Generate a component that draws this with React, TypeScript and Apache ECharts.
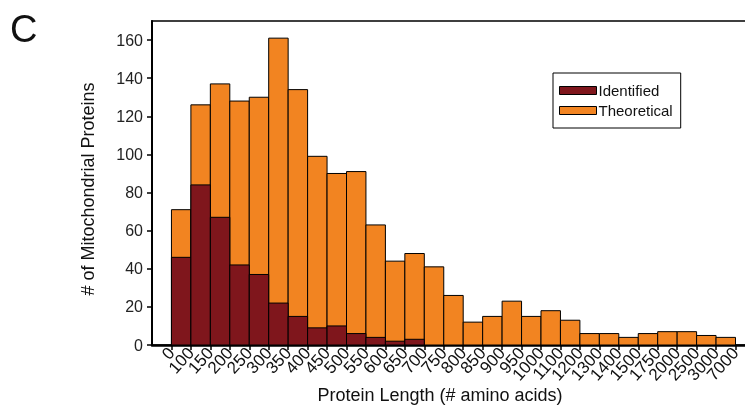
import React, { useEffect, useRef } from "react";
import * as echarts from "echarts";

const tickLabels = [
  "0", "100", "150", "200", "250", "300", "350", "400", "450", "500",
  "550", "600", "650", "700", "750", "800", "850", "900", "950", "1000",
  "1100", "1200", "1300", "1400", "1500", "1750", "2000", "2500", "3000", "7000",
];

const theoretical = [71, 126, 137, 128, 130, 161, 134, 99, 90, 91, 63, 44, 48, 41, 26, 12, 15, 23, 15, 18, 13, 6, 6, 4, 6, 7, 7, 5, 4];
const identified = [46, 84, 67, 42, 37, 22, 15, 9, 10, 6, 4, 2, 3, 0, 0, 0, 0, 0, 0, 0, 0, 0, 0, 0, 0, 0, 0, 0, 0];

const RED = "#7f161c";
const ORANGE = "#f28421";
const FONT = "Liberation Sans";

export default function App() {
  const ref = useRef<HTMLDivElement>(null);
  useEffect(() => {
    if (!ref.current) return;
    const chart = echarts.init(ref.current, null, { renderer: "svg" });
    const makeRender = (color: string) => (params: any, api: any) => {
      const i = api.value(0);
      const v = api.value(1);
      if (!v) return null;
      const p0 = api.coord([i, 0]);
      const p1 = api.coord([i + 1, v]);
      return {
        type: "rect",
        shape: { x: p0[0], y: p1[1], width: p1[0] - p0[0], height: p0[1] - p1[1] },
        style: { fill: color, stroke: "#000", lineWidth: 1 },
      };
    };
    const yTicks = [0, 20, 40, 60, 80, 100, 120, 140, 160];
    const evenTicks = tickLabels.map((_, i) => i).filter((i) => i % 2 === 0);
    const oddTicks = tickLabels.map((_, i) => i).filter((i) => i % 2 === 1);
    const allTicks = tickLabels.map((_, i) => i);
    const labelBase = {
      rotate: 48,
      margin: 5,
      fontSize: 17,
      color: "#111",
      fontFamily: FONT,
      hideOverlap: false,
      formatter: (v: number) => tickLabels[v] ?? "",
    };
    chart.setOption({
      animation: false,
      textStyle: { fontFamily: FONT },
      grid: {
        left: 152,
        top: 21,
        width: 32 * 19.45,
        height: 324,
        show: true,
        borderColor: "#000",
        borderWidth: 1.5,
        containLabel: false,
        outerBoundsMode: "none",
      },
      xAxis: [
        {
          type: "value",
          position: "bottom",
          min: -1,
          max: 31,
          interval: 1,
          splitLine: { show: false },
          axisLine: { onZero: false, lineStyle: { color: "#000", width: 2.5 } },
          axisTick: { show: true, length: 5, customValues: allTicks, lineStyle: { color: "#000", width: 1.5 } },
          axisLabel: { ...labelBase, customValues: evenTicks },
        },
        {
          type: "value",
          position: "bottom",
          offset: 0,
          min: -1,
          max: 31,
          interval: 1,
          splitLine: { show: false },
          axisLine: { show: false, onZero: false },
          axisTick: { show: false },
          axisLabel: { ...labelBase, customValues: oddTicks },
        },
      ],
      yAxis: {
        type: "value",
        min: 0,
        max: 170,
        interval: 20,
        splitLine: { show: false },
        axisLine: { show: true, onZero: false, lineStyle: { color: "#000", width: 2 } },
        axisTick: { show: true, length: 5, customValues: yTicks, lineStyle: { color: "#000", width: 1.5 } },
        axisLabel: {
          customValues: yTicks,
          margin: 9,
          fontSize: 16,
          color: "#222",
          fontFamily: FONT,
        },
      },
      legend: {
        orient: "vertical",
        left: 553,
        top: 73,
        padding: [10, 8, 10, 6],
        itemGap: 5,
        itemWidth: 37,
        itemHeight: 8,
        borderColor: "#000",
        borderWidth: 1,
        textStyle: { fontSize: 15, color: "#111", fontFamily: FONT, padding: [0, 0, 0, -3] },
        data: [
          { name: "Identified", icon: "rect", itemStyle: { color: RED, borderColor: "#000", borderWidth: 1 } },
          { name: "Theoretical", icon: "rect", itemStyle: { color: ORANGE, borderColor: "#000", borderWidth: 1 } },
        ],
      },
      graphic: [
        { type: "text", left: 10, top: 10, style: { text: "C", fontSize: 38, fontFamily: FONT, fill: "#111" } },
        {
          type: "text",
          x: 440,
          y: 395,
          style: { text: "Protein Length (# amino acids)", fontSize: 18, fontFamily: FONT, fill: "#111", align: "center", verticalAlign: "middle" },
        },
        {
          type: "text",
          x: 88,
          y: 189,
          rotation: Math.PI / 2,
          style: { text: "# of Mitochondrial Proteins", fontSize: 18, fontFamily: FONT, fill: "#111", align: "center", verticalAlign: "middle" },
        },
      ],
      series: [
        {
          name: "Theoretical",
          type: "custom",
          renderItem: makeRender(ORANGE),
          itemStyle: { color: ORANGE },
          data: theoretical.map((v, i) => [i, v]),
          z: 2,
        },
        {
          name: "Identified",
          type: "custom",
          renderItem: makeRender(RED),
          itemStyle: { color: RED },
          data: identified.map((v, i) => [i, v]),
          z: 3,
        },
      ],
    });
    return () => chart.dispose();
  }, []);
  return <div ref={ref} style={{ position: "fixed", left: 0, top: 0, width: 745, height: 406 }} />;
}
